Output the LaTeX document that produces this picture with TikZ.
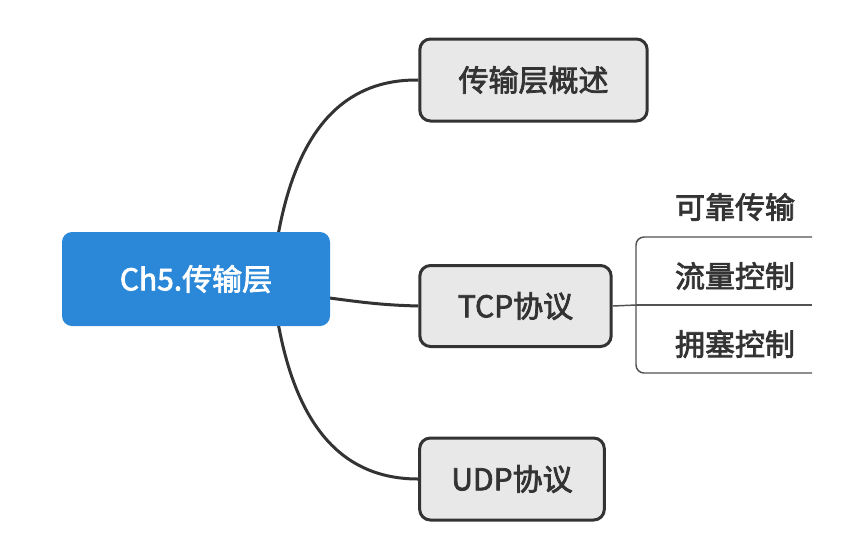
\documentclass[tikz,border=0pt]{standalone}
\usepackage{fontspec}
\setmainfont{Noto Sans CJK SC}
\newfontfamily\medfont{Noto Sans CJK SC}[FakeBold=2.5]
\usetikzlibrary{backgrounds}
\definecolor{rootblue}{HTML}{2B88D8}
\definecolor{boxfill}{HTML}{E8E8E8}
\definecolor{linedark}{HTML}{333333}
\definecolor{txtdark}{HTML}{333333}
\tikzset{
  txtfont/.style={font=\medfont\fontsize{22.5pt}{26pt}\selectfont},
  rootbox/.style={fill=rootblue, rounded corners=7.5pt, text=white, txtfont, inner sep=0pt},
  topicbox/.style={fill=boxfill, draw=linedark, line width=2.25pt, rounded corners=8pt, text=txtdark, txtfont, inner sep=0pt},
  subtxt/.style={text=txtdark, txtfont, inner sep=0pt},
  conn/.style={draw=linedark, line width=2.25pt},
  subline/.style={draw=linedark!85, line width=1.1pt},
}
\begin{document}
\begin{tikzpicture}[x=0.75pt,y=-0.75pt]
\useasboundingbox (0,0) rectangle (856,537);
\node[rootbox, minimum width=201pt, minimum height=70.5pt] (root) at (196,279) {Ch5.传输层};
\node[topicbox, minimum width=170.5pt, minimum height=61.5pt] (b1) at (533.5,80) {传输层概述};
\node[topicbox, minimum width=143.5pt, minimum height=60.75pt] (b2) at (515.5,306) {TCP协议};
\node[topicbox, minimum width=138.5pt, minimum height=61.5pt] (b3) at (512,479) {UDP协议};
\node[subtxt] (s1) at (735,207) {可靠传输};
\node[subtxt] (s2) at (735,276) {流量控制};
\node[subtxt] (s3) at (735,344) {拥塞控制};
\coordinate (rs) at (272,279);
\coordinate (rt) at (322,297);
\coordinate (bx) at (636,305);
\coordinate (e1) at (812,237);
\coordinate (e2) at (812,305);
\coordinate (e3) at (812,373);
\begin{scope}[on background layer]
\draw[conn] (rs) .. controls (285,150) and (330,79) .. (b1.west);
\draw[conn] (rs) .. controls (285,408) and (330,479) .. (b3.west);
\draw[conn] (rt) .. controls (360,302) and (380,305) .. (b2.west);
\end{scope}
\draw[subline] (b2.east) -- (bx);
\draw[subline, rounded corners=6pt] (e1) -| (bx) |- (e3);
\draw[subline] (bx) -- (e2);
\end{tikzpicture}
\end{document}
